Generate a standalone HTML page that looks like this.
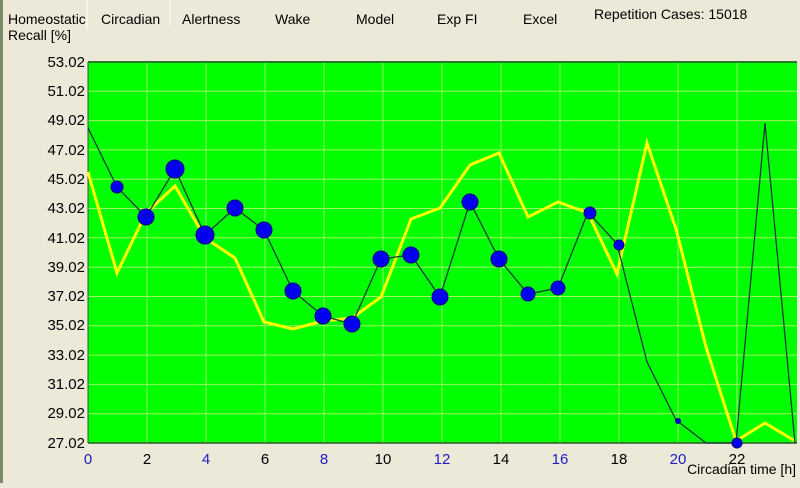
<!DOCTYPE html>
<html><head><style>
body{margin:0;width:800px;height:483px;background:#ece9d8;overflow:hidden;font-family:"Liberation Sans",sans-serif;}
</style></head><body>
<svg width="800" height="483" xmlns="http://www.w3.org/2000/svg" font-family="Liberation Sans, sans-serif">
<rect width="800" height="483" fill="#ece9d8"/>
<rect x="0" y="0" width="3" height="483" fill="#7a8a6a"/>
<line x1="87" y1="0" x2="87" y2="30" stroke="#fff" stroke-width="1"/>
<line x1="170" y1="0" x2="170" y2="25" stroke="#fff" stroke-width="1"/>
<g font-size="14" fill="#000">
<text x="8" y="24">Homeostatic</text>
<text x="8" y="40">Recall [%]</text>
<text x="101" y="24">Circadian</text>
<text x="182" y="24">Alertness</text>
<text x="275" y="24">Wake</text>
<text x="356" y="24">Model</text>
<text x="437" y="24">Exp FI</text>
<text x="523" y="24">Excel</text>
<text x="594" y="19">Repetition Cases: 15018</text>
</g>
<rect x="88" y="62" width="709" height="381" fill="#00ff00"/>
<g stroke="#c8f080" stroke-width="1" opacity="0.8">
<line x1="88" y1="91.3" x2="797" y2="91.3"/><line x1="88" y1="120.6" x2="797" y2="120.6"/>
<line x1="88" y1="149.9" x2="797" y2="149.9"/><line x1="88" y1="179.2" x2="797" y2="179.2"/>
<line x1="88" y1="208.5" x2="797" y2="208.5"/><line x1="88" y1="237.8" x2="797" y2="237.8"/>
<line x1="88" y1="267.2" x2="797" y2="267.2"/><line x1="88" y1="296.5" x2="797" y2="296.5"/>
<line x1="88" y1="325.8" x2="797" y2="325.8"/><line x1="88" y1="355.1" x2="797" y2="355.1"/>
<line x1="88" y1="384.4" x2="797" y2="384.4"/><line x1="88" y1="413.7" x2="797" y2="413.7"/>
<line x1="147" y1="62" x2="147" y2="443"/><line x1="206" y1="62" x2="206" y2="443"/>
<line x1="265" y1="62" x2="265" y2="443"/><line x1="324" y1="62" x2="324" y2="443"/>
<line x1="383" y1="62" x2="383" y2="443"/><line x1="442" y1="62" x2="442" y2="443"/>
<line x1="501" y1="62" x2="501" y2="443"/><line x1="560" y1="62" x2="560" y2="443"/>
<line x1="619" y1="62" x2="619" y2="443"/><line x1="678" y1="62" x2="678" y2="443"/>
<line x1="737" y1="62" x2="737" y2="443"/>
</g>
<line x1="88" y1="62" x2="797" y2="62" stroke="#2a7a2a" stroke-width="2"/>
<line x1="88" y1="443" x2="797" y2="443" stroke="#2a5a2a" stroke-width="1.5"/>
<line x1="88" y1="62" x2="88" y2="443" stroke="#2a5a2a" stroke-width="1"/>
<g font-size="15" fill="#000" text-anchor="end">
<text x="85" y="67">53.02</text><text x="85" y="96">51.02</text><text x="85" y="125">49.02</text>
<text x="85" y="155">47.02</text><text x="85" y="184">45.02</text><text x="85" y="213">43.02</text>
<text x="85" y="243">41.02</text><text x="85" y="272">39.02</text><text x="85" y="301">37.02</text>
<text x="85" y="330">35.02</text><text x="85" y="360">33.02</text><text x="85" y="389">31.02</text>
<text x="85" y="418">29.02</text><text x="85" y="448">27.02</text>
</g>
<g font-size="15" text-anchor="middle">
<text x="88" y="464" fill="#2020c0">0</text><text x="147" y="464">2</text>
<text x="206" y="464" fill="#2020c0">4</text><text x="265" y="464">6</text>
<text x="324" y="464" fill="#2020c0">8</text><text x="383" y="464">10</text>
<text x="442" y="464" fill="#2020c0">12</text><text x="501" y="464">14</text>
<text x="560" y="464" fill="#2020c0">16</text><text x="619" y="464">18</text>
<text x="678" y="464" fill="#2020c0">20</text><text x="737" y="464">22</text>
</g>
<text x="796" y="474" font-size="14" text-anchor="end">Circadian time [h]</text>
<polyline fill="none" stroke="#ffff00" stroke-width="3" points="88,172 117,273 146,213 175,186 205,238 235,258 264,322 293,329 323,321 352,318 381,297 411,219 440,208 470,165 499,153 528,217 558,202 588,213 617,274 647,143 676,229 706,347 736,441 765,423 795,441"/>
<polyline fill="none" stroke="#1a3a3a" stroke-width="1.3" points="88,128 117,187 146,217 175,169 205,235 235,208 264,230 293,291 323,316 352,324 381,259 411,255 440,297 470,202 499,259 528,294 558,288 588,212 617,244 647,362 676,420 706,443 736,443 765,123 795,443"/>
<g fill="#0000ee" stroke="#000080" stroke-width="1">
<circle cx="117" cy="187" r="6"/><circle cx="146" cy="217" r="8"/><circle cx="175" cy="169" r="9"/>
<circle cx="205" cy="235" r="9"/><circle cx="235" cy="208" r="8"/><circle cx="264" cy="230" r="8"/>
<circle cx="293" cy="291" r="8"/><circle cx="323" cy="316" r="8"/><circle cx="352" cy="324" r="8"/>
<circle cx="381" cy="259" r="8"/><circle cx="411" cy="255" r="8"/><circle cx="440" cy="297" r="8"/>
<circle cx="470" cy="202" r="8"/><circle cx="499" cy="259" r="8"/><circle cx="528" cy="294" r="7"/>
<circle cx="558" cy="288" r="7"/><circle cx="590" cy="213" r="6"/><circle cx="619" cy="245" r="5"/>
<circle cx="678" cy="421" r="2.5"/><circle cx="737" cy="443" r="5"/>
</g>
</svg>
</body></html>
